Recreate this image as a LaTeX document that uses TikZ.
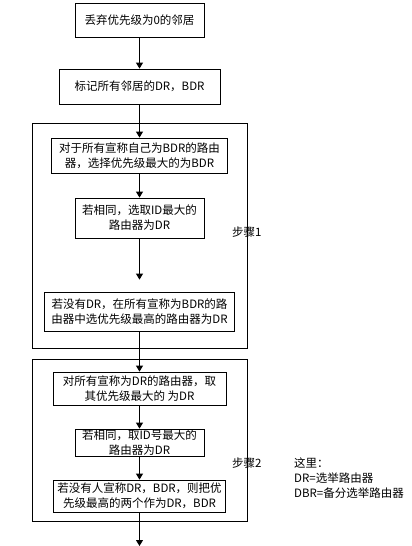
\documentclass[tikz,border=0pt]{standalone}
\usepackage{fontspec}
\setmainfont{Noto Sans CJK SC}
\usetikzlibrary{arrows.meta}

\tikzset{
  stepbox/.style={draw, line width=0.8pt, align=center, inner sep=0pt,
    font=\fontsize{11.5}{15}\selectfont},
  framebox/.style={draw, line width=0.8pt, inner sep=0pt},
  flow/.style={line width=0.9pt, -{Triangle[width=7pt,length=6pt]}},
  steplabel/.style={anchor=west, inner sep=0pt, font=\fontsize{11.5}{15}\selectfont}
}

\begin{document}
\begin{tikzpicture}[x=1pt, y=-1pt]
\useasboundingbox (0,0) rectangle (412,546);

% the two frames of the steps
\node [framebox, minimum width=215pt, minimum height=225pt] (frameA) at (139.5,235.5) {};
\node [framebox, minimum width=215pt, minimum height=162pt] (frameB) at (139.5,440) {};

% boxes before the steps
\node [stepbox, minimum width=129pt, minimum height=34pt] (drop) at (139.5,20) {丢弃优先级为0的邻居};
\node [stepbox, minimum width=161pt, minimum height=35pt] (mark) at (139.5,86.5) {标记所有邻居的DR，BDR};

  % step 1
\node [stepbox, minimum width=176pt, minimum height=35pt] (bdrPrio) at (139.5,155.5) {对于所有宣称自己为BDR的路由\\器，选择优先级最大的为BDR};
\node [stepbox, minimum width=129pt, minimum height=40pt] (bdrId) at (139.5,218) {若相同，选取ID最大的\\路由器为DR};
\node [stepbox, minimum width=190pt, minimum height=39pt] (noDr) at (139.5,311.5) {若没有DR，在所有宣称为BDR的路\\由器中选优先级最高的路由器为DR};
\node [steplabel] (lblA) at (232,232) {步骤1};

  % step 2
\node [stepbox, minimum width=173pt, minimum height=33pt] (drPrio) at (139.5,388.5) {对所有宣称为DR的路由器，取\\其优先级最大的 为DR};
\node [stepbox, minimum width=129pt, minimum height=27pt] (drId) at (139.5,442.5) {若相同，取ID号最大的\\路由器为DR};
\node [stepbox, minimum width=172pt, minimum height=32pt] (noneDr) at (139.5,496) {若没有人宣称DR，BDR，则把优\\先级最高的两个作为DR，BDR};
\node [steplabel] (lblB) at (232,463) {步骤2};

% note on the right
\node [steplabel, align=left] (note) at (294,478) {这里：\\DR=选举路由器\\DBR=备分选举路由器};

% arrows
\coordinate (out) at (139.5,546);
\draw [flow] (drop) -- (mark);
\draw [flow] (mark) -- (bdrPrio);
\draw [flow] (bdrPrio) -- (bdrId);
\draw [flow, shorten >=12pt] (bdrId) -- (noDr);
\draw [flow] (noDr) -- (drPrio);
\draw [flow] (drPrio) -- (drId);
\draw [flow] (drId) -- (noneDr);
\draw [flow] (noneDr) -- (out);

\end{tikzpicture}
\end{document}
